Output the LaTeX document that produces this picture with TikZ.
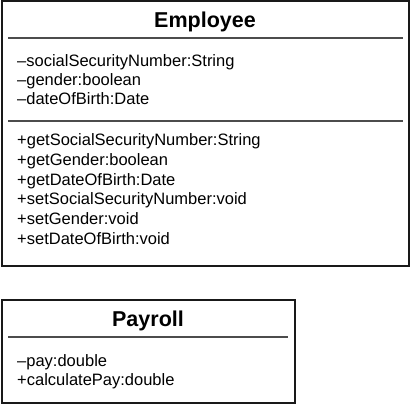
\documentclass[tikz,border=0pt]{standalone}
\usepackage{fontspec}
\setmainfont{Liberation Sans}
\begin{document}
\begin{tikzpicture}[x=1pt,y=-1pt,
  box/.style={draw=black!90,line width=2pt},
  sep/.style={draw=black!70,line width=1.3pt},
  title/.style={anchor=base,inner sep=0pt,font=\fontsize{21.5}{24}\selectfont\bfseries},
  member/.style={anchor=base west,inner sep=0pt,font=\fontsize{16.5}{19}\selectfont}]
\useasboundingbox (0,0) rectangle (411,404);
% Employee
\draw[box] (1.5,1.5) rectangle (408.5,265.5);
\node[title] (emp) at (205,27.5) {Employee};
\coordinate (e1l) at (8,38); \coordinate (e1r) at (403,38);
\coordinate (e2l) at (8,121); \coordinate (e2r) at (403,121);
\draw[sep] (e1l) -- (e1r);
\draw[sep] (e2l) -- (e2r);
\node[member] (a1) at (17,66) {–socialSecurityNumber:String};
\node[member] (a2) at (17,85.3) {–gender:boolean};
\node[member] (a3) at (17,104.6) {–dateOfBirth:Date};
\node[member] (m1) at (17,145.7) {+getSocialSecurityNumber:String};
\node[member] (m2) at (17,165.4) {+getGender:boolean};
\node[member] (m3) at (17,185.1) {+getDateOfBirth:Date};
\node[member] (m4) at (17,204.8) {+setSocialSecurityNumber:void};
\node[member] (m5) at (17,224.5) {+setGender:void};
\node[member] (m6) at (17,244.2) {+setDateOfBirth:void};
% Payroll
\draw[box] (1.5,300) rectangle (294.5,402.5);
\node[title] (pay) at (148,326) {Payroll};
\coordinate (p1l) at (8,337); \coordinate (p1r) at (288,337);
\draw[sep] (p1l) -- (p1r);
\node[member] (pa1) at (17,366) {–pay:double};
\node[member] (pm1) at (17,385.3) {+calculatePay:double};
\end{tikzpicture}
\end{document}
